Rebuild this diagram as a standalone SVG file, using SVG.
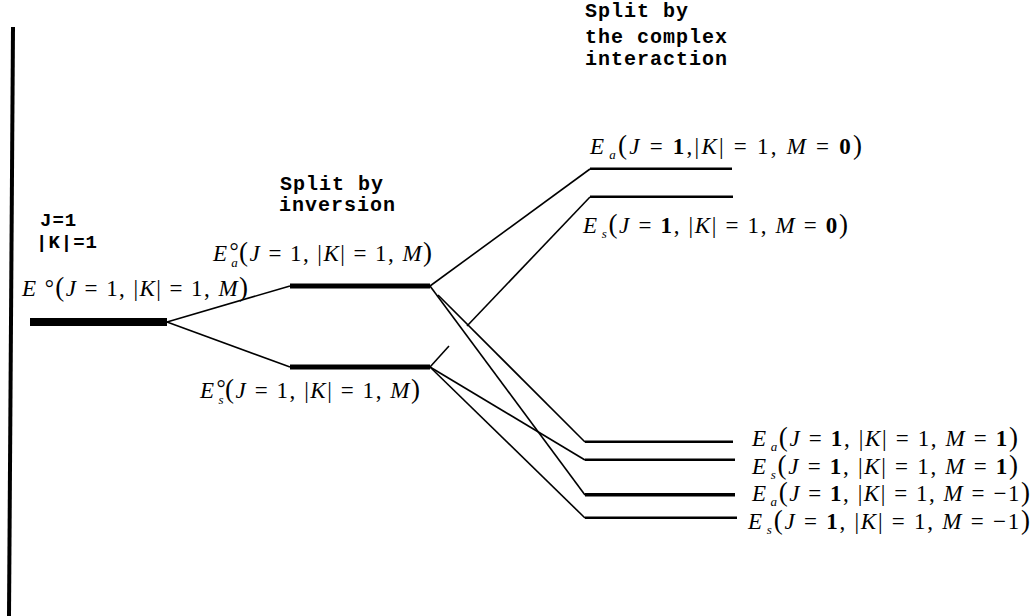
<svg xmlns="http://www.w3.org/2000/svg" width="1036" height="616" viewBox="0 0 1036 616">
<style>
.h{font-family:"Liberation Mono",monospace;font-weight:bold;font-size:20px;letter-spacing:1px;fill:#000}
.q{font-family:"Liberation Mono",monospace;font-weight:bold;font-size:19px;letter-spacing:1px;fill:#000}
.m{font-family:"Liberation Serif",serif;font-size:23px;fill:#000}
.i{font-style:italic}
.b{font-weight:bold}
.p{font-size:27px}
.s{font-size:13px;font-style:italic}
.lv{fill:#000}
.c line{stroke:#000;stroke-width:1.6;fill:none}
</style>
<rect width="1036" height="616" fill="#fff"/>
<line x1="13" y1="27" x2="9" y2="616" stroke="#000" stroke-width="4"/>

<g id="headings">
<text class="h" x="280" y="190">Split by</text>
<text class="h" x="279" y="211">inversion</text>
<text class="h" x="585" y="17">Split by</text>
<text class="h" x="585" y="43">the complex</text>
<text class="h" x="585" y="65">interaction</text>
</g>

<g id="ground">
<rect class="lv" x="30" y="318" width="137" height="8"/>
<text class="q" x="40" y="226">J=1</text>
<text class="q" x="36" y="248" letter-spacing="-1">|K|=1</text>
<text class="m" x="22" y="296" textLength="226"><tspan class="i">E</tspan> °<tspan class="p">(</tspan><tspan class="i">J</tspan> = 1, |<tspan class="i">K</tspan>| = 1, <tspan class="i">M</tspan><tspan class="p">)</tspan></text>
</g>

<g id="inv-a">
<rect class="lv" x="290" y="283.5" width="140" height="5"/>
<text class="m" x="213" y="261" textLength="219"><tspan class="i">E</tspan><tspan dx="1" dy="-2">°</tspan><tspan class="s" dx="-9" dy="8">a</tspan><tspan class="p" dy="-6">(</tspan><tspan class="i">J</tspan> = 1, |<tspan class="i">K</tspan>| = 1, <tspan class="i">M</tspan><tspan class="p">)</tspan></text>
</g>

<g id="inv-s">
<rect class="lv" x="290" y="364.5" width="140" height="5"/>
<text class="m" x="200" y="398" textLength="220"><tspan class="i">E</tspan><tspan dx="1" dy="-2">°</tspan><tspan class="s" dx="-9" dy="8">s</tspan><tspan class="p" dy="-6">(</tspan><tspan class="i">J</tspan> = 1, |<tspan class="i">K</tspan>| = 1, <tspan class="i">M</tspan><tspan class="p">)</tspan></text>
</g>

<g id="a-M0">
<rect class="lv" x="590" y="167.5" width="142" height="2.5"/>
<text class="m" x="590" y="154" textLength="272"><tspan class="i">E</tspan><tspan class="s" dx="3" dy="5">a</tspan><tspan class="p" dy="-5">(</tspan><tspan class="i">J</tspan> = <tspan class="b">1</tspan>,|<tspan class="i">K</tspan>| = 1, <tspan class="i">M</tspan> = <tspan class="b">0</tspan><tspan class="p">)</tspan></text>
</g>

<g id="s-M0">
<rect class="lv" x="590" y="195.5" width="143" height="2.5"/>
<text class="m" x="583" y="233" textLength="265"><tspan class="i">E</tspan><tspan class="s" dx="3" dy="5">s</tspan><tspan class="p" dy="-5">(</tspan><tspan class="i">J</tspan> = <tspan class="b">1</tspan>, |<tspan class="i">K</tspan>| = 1, <tspan class="i">M</tspan> = <tspan class="b">0</tspan><tspan class="p">)</tspan></text>
</g>

<g id="a-M1">
<rect class="lv" x="585" y="440.5" width="148" height="2.5"/>
<text class="m" x="752" y="446" textLength="266"><tspan class="i">E</tspan><tspan class="s" dx="3" dy="5">a</tspan><tspan class="p" dy="-5">(</tspan><tspan class="i">J</tspan> = <tspan class="b">1</tspan>, |<tspan class="i">K</tspan>| = 1, <tspan class="i">M</tspan> = <tspan class="b">1</tspan><tspan class="p">)</tspan></text>
</g>

<g id="s-M1">
<rect class="lv" x="585" y="458.5" width="150" height="2.5"/>
<text class="m" x="752" y="474" textLength="266"><tspan class="i">E</tspan><tspan class="s" dx="3" dy="5">s</tspan><tspan class="p" dy="-5">(</tspan><tspan class="i">J</tspan> = <tspan class="b">1</tspan>, |<tspan class="i">K</tspan>| = 1, <tspan class="i">M</tspan> = <tspan class="b">1</tspan><tspan class="p">)</tspan></text>
</g>

<g id="a-Mm1">
<rect class="lv" x="585" y="493" width="150" height="3.5"/>
<text class="m" x="752" y="501" textLength="278"><tspan class="i">E</tspan><tspan class="s" dx="3" dy="5">a</tspan><tspan class="p" dy="-5">(</tspan><tspan class="i">J</tspan> = <tspan class="b">1</tspan>, |<tspan class="i">K</tspan>| = 1, <tspan class="i">M</tspan> = −1<tspan class="p">)</tspan></text>
</g>

<g id="s-Mm1">
<rect class="lv" x="585" y="516.5" width="152" height="2.5"/>
<text class="m" x="748" y="529" textLength="282"><tspan class="i">E</tspan><tspan class="s" dx="3" dy="5">s</tspan><tspan class="p" dy="-5">(</tspan><tspan class="i">J</tspan> = <tspan class="b">1</tspan>, |<tspan class="i">K</tspan>| = 1, <tspan class="i">M</tspan> = −1<tspan class="p">)</tspan></text>
</g>

<g id="connectors" class="c">
<line x1="167" y1="322" x2="290" y2="286"/>
<line x1="167" y1="322" x2="290" y2="367"/>
<line x1="430" y1="286" x2="590" y2="169"/>
<line x1="467" y1="326" x2="590" y2="197"/>
<line x1="430" y1="367" x2="449" y2="346"/>
<line x1="430" y1="286" x2="585" y2="495"/>
<line x1="438" y1="295" x2="585" y2="442"/>
<line x1="430" y1="367" x2="585" y2="460"/>
<line x1="430" y1="367" x2="585" y2="518"/>
</g>
</svg>
